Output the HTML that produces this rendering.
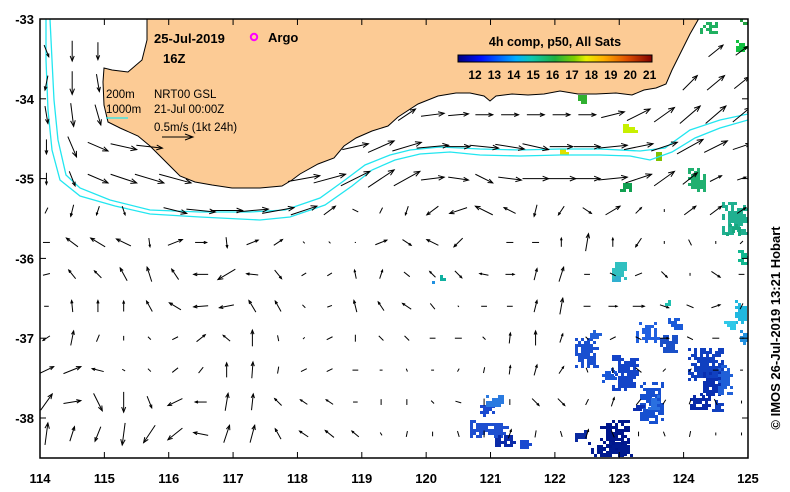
<!DOCTYPE html>
<html><head><meta charset="utf-8"><style>
html,body{margin:0;padding:0;background:#fff;}
svg{display:block;font-family:"Liberation Sans",sans-serif;}
</style></head><body>
<svg id="map" width="790" height="492" viewBox="0 0 790 492" xmlns="http://www.w3.org/2000/svg">
<defs><clipPath id="pc"><rect x="40" y="19" width="708" height="439"/></clipPath></defs>
<rect x="0" y="0" width="790" height="492" fill="#fff"/>
<g id="plot" clip-path="url(#pc)">
<g id="sat"></g>
<polygon id="land" fill="#fccb95" stroke="#000" stroke-width="1"
points="147,10 147,40 142,60 128,72 112,70 104,68 103,82 104,105 108,122 120,128 138,136 150,146 160,156 170,166 180,176 195,182 212,185 232,188 260,188 282,186 292,180 300,174 318,164 334,158 344,146 356,138 372,131 388,126 398,117 418,104 438,96 456,93 470,93 484,96 490,101 496,96 512,94 528,95 544,94 560,91 578,94 596,94 616,93 632,95 644,90 656,88 666,84 672,70 678,58 684,46 690,34 698,20 702,10"/>
<polyline fill="none" stroke="#22e6f0" stroke-width="1.3"
points="50,19 52,60 54,100 58,140 66,175 80,188 110,200 150,210 200,212 250,212 285,210 320,198 345,180 365,165 390,155 410,150 440,147 480,149 520,150 560,149 600,149 640,151 665,148 690,130 720,120 748,114"/>
<polyline fill="none" stroke="#22e6f0" stroke-width="1.3"
points="46,19 46,60 48,110 52,150 60,180 80,196 115,206 150,214 200,217 260,220 290,217 325,205 352,186 372,170 395,160 420,154 450,152 480,155 520,156 560,155 600,155 630,156 650,160 672,152 695,138 720,128 748,120"/>
<g id="arrows"></g>
</g>
<rect x="40" y="19" width="708" height="439" fill="none" stroke="#000" stroke-width="1.5"/>
<g id="axes" font-size="13" font-weight="bold"></g>
<circle cx="254" cy="37" r="3.2" fill="none" stroke="#ff00ff" stroke-width="2"/>
<text x="268" y="42" font-size="13" font-weight="bold">Argo</text>
<text x="154" y="43" font-size="13" font-weight="bold">25-Jul-2019</text>
<text x="163" y="63" font-size="13" font-weight="bold">16Z</text>
<text x="106" y="98" font-size="11.5">200m</text>
<text x="106" y="113" font-size="11.5">1000m</text>
<line x1="106" y1="118" x2="128" y2="118" stroke="#22e6f0" stroke-width="1.3"/>
<text x="154" y="98" font-size="11.5">NRT00 GSL</text>
<text x="154" y="113" font-size="11.5">21-Jul 00:00Z</text>
<text x="154" y="131" font-size="11.5">0.5m/s (1kt 24h)</text>
<g stroke="#000" stroke-width="1"><line x1="162" y1="137" x2="193" y2="137"/><polyline fill="none" points="185,134 193,137 185,140"/></g>
<text x="555" y="46" font-size="12.5" font-weight="bold" text-anchor="middle">4h comp, p50, All Sats</text>
<linearGradient id="jet" x1="0" x2="1" y1="0" y2="0">
<stop offset="0" stop-color="#00007f"/><stop offset="0.12" stop-color="#0010ff"/><stop offset="0.3" stop-color="#00b0ff"/><stop offset="0.38" stop-color="#10c8b0"/><stop offset="0.5" stop-color="#20b040"/><stop offset="0.6" stop-color="#80d000"/><stop offset="0.66" stop-color="#e8f000"/><stop offset="0.75" stop-color="#ffb000"/><stop offset="0.87" stop-color="#e05000"/><stop offset="1" stop-color="#800000"/></linearGradient>
<rect x="458" y="55" width="194" height="7" fill="url(#jet)" stroke="#000" stroke-width="1"/>
<g id="cbl" font-size="12" font-weight="bold" text-anchor="middle"></g>
<text transform="translate(780,328) rotate(-90)" font-size="13" font-weight="bold" text-anchor="middle">© IMOS 26-Jul-2019 13:21 Hobart</text>
</svg>
<script>
const xTicks=[114,115,116,117,118,119,120,121,122,123,124,125];
const yTicks=[-33,-34,-35,-36,-37,-38];
const cbTicks=[12,13,14,15,16,17,18,19,20,21];
const lons=[114.1,114.5,114.9,115.3,115.7,116.1,116.5,116.9,117.3,117.7,118.1,118.5,118.9,119.3,119.7,120.1,120.5,120.9,121.3,121.7,122.1,122.5,122.9,123.3,123.7,124.1,124.5,124.9];
const lats=[-33.4,-33.8,-34.2,-34.6,-35.0,-35.4,-35.8,-36.2,-36.6,-37.0,-37.4,-37.8,-38.2];
const U=[
[8,0,0,0,0,0,0,0,0,0,0,0,0,0,0,0,0,0,0,0,0,0,0,0,0,0,25,20],
[-5,0,5,0,0,0,0,0,0,0,0,0,0,0,0,0,0,0,0,0,0,0,0,0,0,25,30,25],
[5,5,10,0,0,0,0,0,0,0,0,0,0,0,30,40,35,30,30,30,30,30,40,40,35,35,35,30],
[0,15,35,45,45,40,0,0,0,0,0,0,45,45,50,55,40,50,50,45,40,45,50,50,45,45,40,30],
[0,10,35,45,50,55,55,55,50,50,55,55,50,45,45,40,35,30,40,45,50,45,50,45,35,25,20,15],
[-5,-5,-5,5,0,40,50,55,55,55,45,20,10,-5,-5,-20,-30,-30,-20,-5,-10,15,25,10,0,20,20,15],
[-12,-20,-25,-25,2,25,20,2,20,15,-3,-3,-2,20,15,-20,-15,0,-12,-12,0,5,0,-10,0,-5,0,-5],
[-12,-12,-12,-12,-8,-12,-25,-30,-20,12,-8,-8,-3,5,-10,-10,12,-15,15,5,8,-10,-10,12,10,0,15,-10],
[-8,-2,0,0,-10,-20,-25,-25,-12,-10,5,-8,-5,-10,-15,-8,-2,-10,-10,5,5,12,15,20,15,12,15,5],
[-12,5,5,0,-5,10,15,-12,0,-2,3,-10,0,-8,-8,-10,-12,-5,2,0,5,-5,10,-10,15,10,-12,-8],
[25,30,-20,-5,-5,10,8,0,2,2,10,10,-10,-5,-2,-5,3,2,2,5,8,-3,0,-10,5,5,10,5],
[20,30,15,0,8,-25,-20,5,3,-12,-12,-12,-8,0,0,-5,-10,0,0,12,12,-5,5,8,5,3,5,0],
[5,8,-10,-5,-20,-25,-25,10,8,-10,-15,-15,-12,-3,2,0,-3,0,5,2,-3,5,-5,0,-3,2,0,0]];
const V=[
[-20,-35,-30,0,0,0,0,0,0,0,0,0,0,0,0,0,0,0,0,0,0,0,0,0,0,0,20,15],
[-25,-40,-30,0,0,0,0,0,0,0,0,0,0,0,0,0,0,0,0,0,0,0,0,0,0,25,25,20],
[-30,-40,-35,0,0,0,0,0,0,0,0,0,0,0,20,5,3,0,0,0,0,0,10,20,25,30,30,25],
[-25,-35,-15,-10,-5,-10,0,0,0,0,0,0,10,20,15,5,0,-5,-8,-10,0,0,5,10,15,25,20,10],
[-20,-25,-15,-15,-15,-15,-10,-5,0,5,10,15,25,30,25,5,-5,-15,-5,0,0,0,5,15,25,20,10,5],
[-10,-20,-15,-15,0,-10,-5,0,5,10,15,15,-5,-10,-15,-15,-10,15,10,-20,-15,-10,15,10,-5,15,15,10],
[0,15,15,12,-15,10,0,-18,8,10,3,3,0,8,-10,10,-15,0,0,0,15,30,15,-15,-5,10,-5,-5],
[-3,15,12,22,25,18,0,-18,2,-15,-5,-5,15,15,8,10,-12,3,0,20,25,0,5,5,-10,-5,-10,0],
[0,20,20,18,18,12,-2,-5,20,18,-5,-3,20,15,10,10,2,0,0,20,28,0,0,0,-5,-5,5,10],
[-8,25,12,8,5,5,12,10,28,10,3,-5,12,8,8,0,0,5,18,25,15,5,5,5,0,-5,0,0],
[12,12,5,3,5,8,10,25,28,12,5,5,0,0,5,0,5,10,15,18,12,8,10,8,5,5,0,0],
[28,5,-30,-35,-20,-12,0,30,28,12,8,8,0,-10,10,5,3,12,10,-12,-12,-10,15,10,8,8,-10,5],
[38,25,-25,-38,-30,-20,5,30,30,18,10,12,10,5,10,8,10,12,15,12,10,15,12,8,8,10,5,5]];
const sat=[
[600,420,30,36,"#00168c"],[588,442,44,14,"#001a90"],[575,430,12,10,"#0a2aa0"],[612,355,26,36,"#1444c8"],[602,368,14,14,"#1a58d8"],
[640,382,22,40,"#1650d0"],[648,395,10,14,"#2a70e0"],[630,402,14,8,"#0c2eb0"],[688,348,36,32,"#1040c0"],[700,372,20,22,"#0a30b0"],
[718,365,14,28,"#2060d8"],[636,322,24,20,"#2060e0"],[660,335,16,18,"#1a50c8"],[668,318,14,12,"#1a5ad8"],[575,338,24,30,"#1a50d0"],
[590,330,10,10,"#2060d8"],[690,395,20,15,"#0a2aa8"],[712,400,10,10,"#1040c0"],[470,420,38,16,"#1e4fd0"],[480,405,14,10,"#1a4ad0"],
[486,395,18,12,"#2a7ae0"],[495,435,20,10,"#0a2aa8"],[520,440,10,10,"#1a4ad0"],[735,300,12,22,"#20b8e0"],[724,318,12,12,"#30c8e8"],
[740,330,8,14,"#2090e0"],[722,202,26,32,"#20b090"],[726,224,14,10,"#18a880"],[688,168,18,22,"#20b070"],[620,180,12,10,"#10a050"],
[612,262,14,16,"#30c0c0"],[612,276,8,6,"#30b0d0"],[738,250,10,15,"#10b890"],[700,22,16,10,"#20b060"],[736,40,10,10,"#10c040"],
[740,19,8,6,"#20a040"],[578,95,10,8,"#30b030"],[620,124,16,8,"#c8f000"],[560,149,10,6,"#e0e000"],[653,152,8,8,"#80c000"],
[440,272,6,10,"#10b0a0"],[432,278,6,6,"#2090e0"],[665,300,6,6,"#20c0b0"]];
const xs=l=>40+(l-114)*64.36, ys=a=>19+(-33-a)*79.8, uk=0.58;
const NS="http://www.w3.org/2000/svg";
function mk(t,a,p){const e=document.createElementNS(NS,t);for(const k in a)e.setAttribute(k,a[k]);p.appendChild(e);return e;}
const satG=document.getElementById('sat');
function hash(a,b){let h=(a*73856093)^(b*19349663);h=(h^(h>>>13))*1274126177;return ((h>>>0)%1000)/1000;}
sat.forEach(s=>{
 const g=mk('g',{fill:s[4]},satG);
 
 
 for(let x=s[0];x<s[0]+s[2];x+=3)for(let y=s[1];y<s[1]+s[3];y+=3){
  const ex=Math.min((x-s[0])/s[2],(s[0]+s[2]-x)/s[2],(y-s[1])/s[3],(s[1]+s[3]-y)/s[3]);
  const p=ex<0.15?0.45:0.85;
  if(hash(x,y)<p)mk('rect',{x:x,y:y,width:3,height:3},g);
 }});
const land=document.getElementById('land');
const pts=land.getAttribute('points').trim().split(/\s+/).map(p=>p.split(',').map(Number));
const cv=document.createElement('canvas').getContext('2d');const pth=new Path2D();
pts.forEach((p,i)=>i?pth.lineTo(p[0],p[1]):pth.moveTo(p[0],p[1]));pth.closePath();
const ag=document.getElementById('arrows');
lats.forEach((la,r)=>lons.forEach((lo,c)=>{
 const u=U[r][c],v=V[r][c];const x=xs(lo),y=ys(la);
 if(cv.isPointInPath(pth,x,y))return;
 const dx=u*uk,dy=-v*uk;const L=Math.hypot(dx,dy);if(L<1)return;
 const x0=x-dx/2,y0=y-dy/2,x1=x+dx/2,y1=y+dy/2;
 const g=mk('g',{stroke:'#000','stroke-width':1,fill:'none'},ag);
 
 
 mk('line',{x1:x0,y1:y0,x2:x1,y2:y1},g);
 if(L>8){const h=Math.min(6,L*0.25),ux=dx/L,uy=dy/L;
 mk('polyline',{points:`${x1-h*ux-h*0.4*uy},${y1-h*uy+h*0.4*ux} ${x1},${y1} ${x1-h*ux+h*0.4*uy},${y1-h*uy-h*0.4*ux}`},g);}
}));
const ax=document.getElementById('axes');
xTicks.forEach(t=>{const x=xs(t);
 mk('line',{x1:x,y1:19,x2:x,y2:25,stroke:'#000'},ax);mk('line',{x1:x,y1:458,x2:x,y2:452,stroke:'#000'},ax);
 const tx=mk('text',{x:x,y:483,'text-anchor':'middle'},ax);tx.textContent=t;
 
 });
yTicks.forEach(t=>{const y=ys(t);
 mk('line',{x1:40,y1:y,x2:46,y2:y,stroke:'#000'},ax);mk('line',{x1:748,y1:y,x2:742,y2:y,stroke:'#000'},ax);
 const tx=mk('text',{x:34,y:y+5,'text-anchor':'end'},ax);tx.textContent=t;
 
 });
const cb=document.getElementById('cbl');
cbTicks.forEach((t,i)=>{const x=475+i*19.4;
 const tx=mk('text',{x:x,y:79},cb);tx.textContent=t;
 
 });
</script>
</body></html>
